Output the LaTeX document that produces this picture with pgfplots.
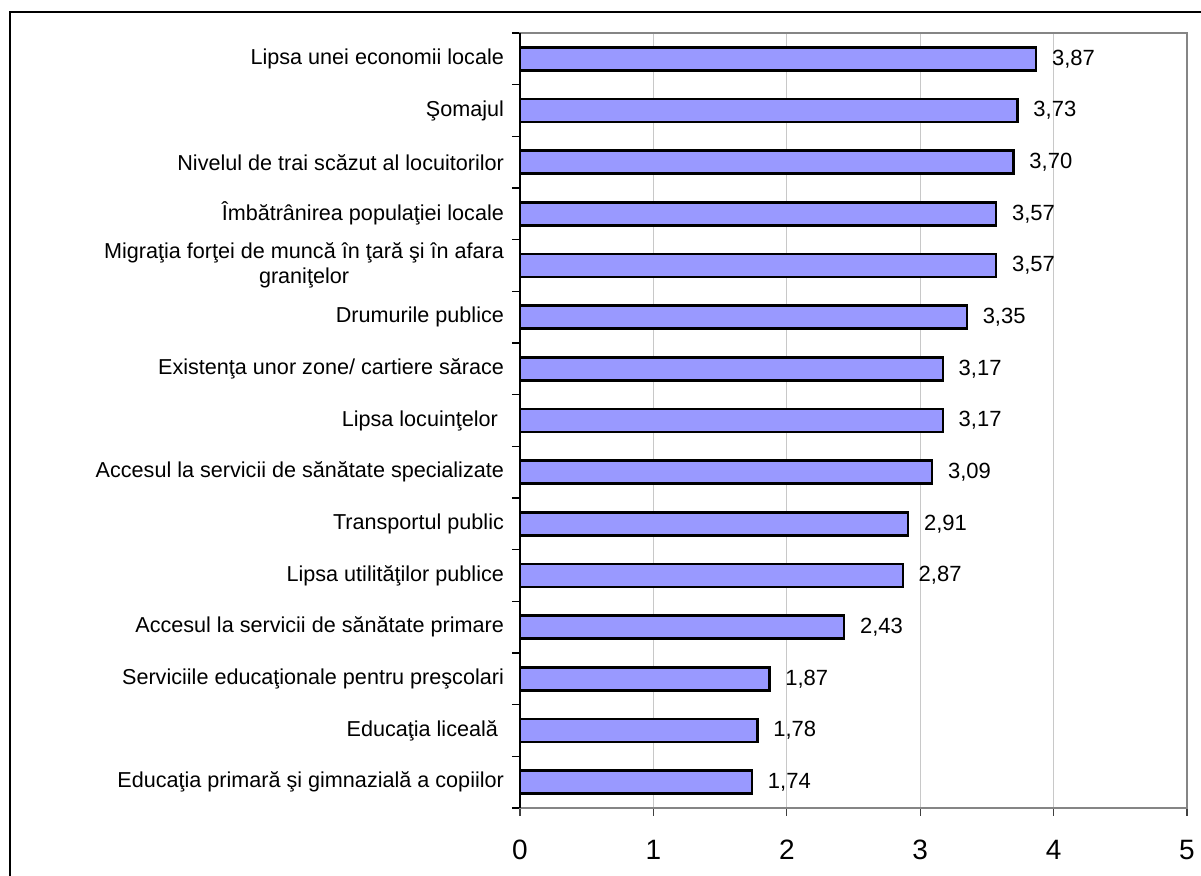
\documentclass[border=0pt]{standalone}
\usepackage{fontspec}
\setmainfont{Liberation Sans}
\usepackage{pgfplots}
\pgfplotsset{compat=1.18}
\definecolor{barfill}{HTML}{9999FF}
\definecolor{framegray}{HTML}{858585}
\definecolor{gridgray}{HTML}{C8C8C8}
\begin{document}
\begin{tikzpicture}
\useasboundingbox (0,0) rectangle (600.5pt,438pt);
\draw[black, line width=1.3pt] (5pt,-2pt) -- (5pt,432pt) -- (602pt,432pt);
\begin{axis}[
  at={(260pt,34pt)}, anchor=south west,
  scale only axis,
  width=333.5pt, height=387.5pt,
  xbar, bar width=11.5pt,
  xmin=0, xmax=5,
  ymin=-0.5, ymax=14.5,
  xtick={0,1,2,3,4,5},
  ytick={0,...,14},
  minor ytick={-0.5,0.5,...,14.5},
  xtick pos=bottom, ytick pos=left,
  yticklabels={
    Educaţia primară şi gimnazială a copiilor,
    Educaţia liceală\ ,
    Serviciile educaţionale pentru preşcolari,
    Accesul la servicii de sănătate primare,
    Lipsa utilităţilor publice,
    Transportul public,
    Accesul la servicii de sănătate specializate,
    Lipsa locuinţelor\ ,
    Existenţa unor zone/ cartiere sărace,
    Drumurile publice,
    {Migraţia forţei de muncă în ţară şi în afara\\graniţelor},
    Îmbătrânirea populaţiei locale,
    Nivelul de trai scăzut al locuitorilor,
    Şomajul,
    Lipsa unei economii locale},
  tick align=outside,
  major tick length=4pt,
  minor tick length=4pt,
  major y tick style={draw=none},
  minor y tick style={draw=black, line width=0.6pt},
  x tick style={draw=black!75, line width=0.6pt},
  xmajorgrids=true,
  grid style={gridgray, line width=0.6pt},
  axis line style={framegray, line width=1pt},
  /pgf/number format/assume math mode=true,
  xticklabel style={font=\fontsize{14}{16}\selectfont, yshift=-8.5pt},
  yticklabel style={font=\fontsize{10.8}{12.6}\selectfont, align=center, xshift=-0.5pt},
  nodes near coords,
  point meta=x,
  nodes near coords style={font=\fontsize{11}{13}\selectfont, anchor=west, xshift=4pt,
    /pgf/number format/.cd, fixed, fixed zerofill, precision=2, use comma},
  clip=false,
]
\addplot[fill=barfill, draw=black, line width=1.2pt] coordinates {
  (1.74,0) (1.78,1) (1.87,2) (2.43,3) (2.87,4) (2.91,5) (3.09,6) (3.17,7)
  (3.17,8) (3.35,9) (3.57,10) (3.57,11) (3.70,12) (3.73,13) (3.87,14)
};
\draw[black, line width=1pt] (axis cs:0,-0.5) -- (axis cs:0,14.5);
\end{axis}
\end{tikzpicture}
\end{document}
